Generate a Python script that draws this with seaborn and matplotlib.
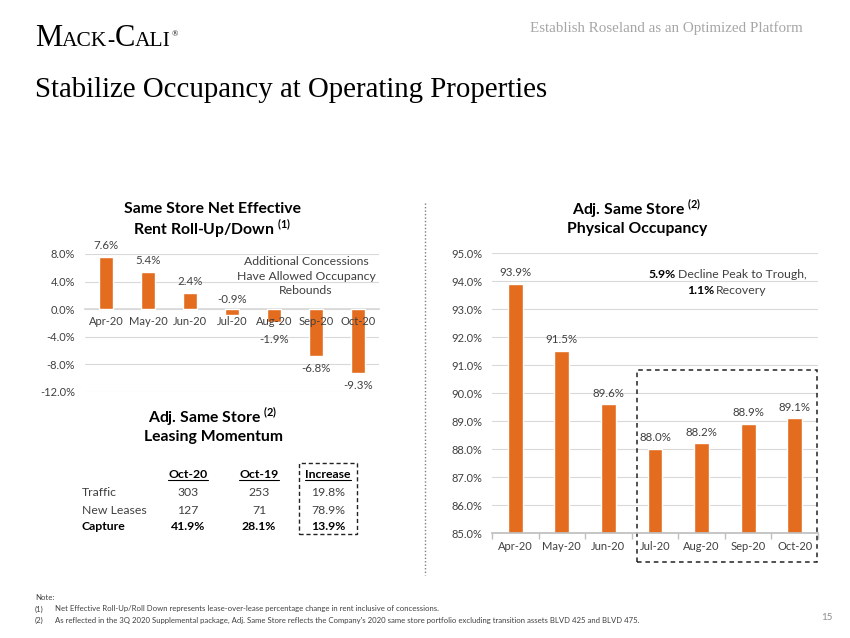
import numpy as np
import pandas as pd
import seaborn as sns
import matplotlib.pyplot as plt
from matplotlib.patches import Rectangle
from matplotlib.lines import Line2D
from matplotlib.ticker import FuncFormatter

# ---- data ----
months = ["Apr-20", "May-20", "Jun-20", "Jul-20", "Aug-20", "Sep-20", "Oct-20"]
rent_rollup = [7.6, 5.4, 2.4, -0.9, -1.9, -6.8, -9.3]
occupancy = [93.9, 91.5, 89.6, 88.0, 88.2, 88.9, 89.1]

table_cols = ["Oct-20", "Oct-19", "Increase"]
table_rows = ["Traffic", "New Leases", "Capture"]
oct20 = ["303", "127", "41.9%"]
oct19 = ["253", "71", "28.1%"]
increase = ["19.8%", "78.9%", "13.9%"]

concession_note = ["Additional Concessions", "Have Allowed Occupancy", "Rebounds"]

ORANGE = "#E36C1E"
GRID = "#D9D9D9"
TXT = "#404040"
W, H = 850, 638

sns.set_theme(style="white")
plt.rcParams["font.family"] = ["Lato", "DejaVu Sans"]

fig = plt.figure(figsize=(8.5, 6.38), dpi=100)


def fx(x):
    return x / W


def fy(y):
    return 1 - y / H


def pct(v, _):
    return f"{v:.1f}%"


# ---- left chart: rent roll-up/down ----
ax1 = fig.add_axes([fx(85), fy(392), fx(379) - fx(85), fy(254) - fy(392)])
df1 = pd.DataFrame({"month": months, "value": rent_rollup})
sns.barplot(data=df1, x="month", y="value", color=ORANGE, width=0.32,
            saturation=1, ax=ax1)
ax1.set_ylim(-12, 8)
ax1.set_yticks([-12, -8, -4, 0, 4, 8])
ax1.yaxis.set_major_formatter(FuncFormatter(pct))
ax1.grid(axis="y", color=GRID, lw=0.8)
ax1.set_axisbelow(True)
ax1.xaxis.set_zorder(3)  # month labels sit on top of the bars
for s in ["top", "right", "left"]:
    ax1.spines[s].set_visible(False)
ax1.spines["bottom"].set_position(("data", 0))
ax1.spines["bottom"].set_color(GRID)
ax1.spines["bottom"].set_zorder(0.6)
ax1.tick_params(axis="both", length=0, labelsize=8, labelcolor=TXT)
ax1.tick_params(axis="x", pad=5)
ax1.tick_params(axis="y", pad=7)
ax1.set_xlabel("")
ax1.set_ylabel("")
for i, v in enumerate(rent_rollup):
    if v >= 0:
        ax1.annotate(f"{v:.1f}%", (i, v), xytext=(0, 4), textcoords="offset points",
                     ha="center", va="bottom", fontsize=8.3, color=TXT)
    elif v > -1:
        ax1.annotate(f"{v:.1f}%", (i, 0), xytext=(0, 3), textcoords="offset points",
                     ha="center", va="bottom", fontsize=8.3, color=TXT)
    else:
        ax1.annotate(f"{v:.1f}%", (i, min(v, -2.6)), xytext=(0, -5),
                     textcoords="offset points", ha="center", va="top",
                     fontsize=8.3, color=TXT)
for k, line in enumerate(concession_note):
    fig.text(fx(306), fy(261 + 15 * k), line, ha="center", va="center",
             fontsize=8.8, color=TXT)

fig.text(fx(212), fy(209), "Same Store Net Effective", ha="center", va="center",
         fontsize=11.3, fontweight="bold", color="black")
fig.text(fx(212), fy(229), r"Rent Roll-Up/Down $^{\mathregular{(1)}}$", ha="center",
         va="center", fontsize=11.3, fontweight="bold", color="black")

# ---- right chart: physical occupancy ----
ax2 = fig.add_axes([fx(492), fy(533), fx(818) - fx(492), fy(253) - fy(533)])
df2 = pd.DataFrame({"month": months, "value": occupancy})
sns.barplot(data=df2, x="month", y="value", color=ORANGE, width=0.32,
            saturation=1, ax=ax2)
ax2.set_ylim(85, 95)
ax2.set_yticks(np.arange(85, 96, 1))
ax2.yaxis.set_major_formatter(FuncFormatter(pct))
ax2.grid(axis="y", color=GRID, lw=0.8)
ax2.set_axisbelow(True)
for s in ["top", "right", "left"]:
    ax2.spines[s].set_visible(False)
ax2.spines["bottom"].set_color("#BFBFBF")
ax2.set_xticks(np.arange(-0.5, 7, 1), minor=True)
ax2.tick_params(axis="x", which="minor", length=4, color="#BFBFBF", bottom=True)
ax2.tick_params(axis="both", which="major", length=0, labelsize=8, labelcolor=TXT)
ax2.tick_params(axis="x", pad=6)
ax2.tick_params(axis="y", pad=7)
ax2.set_xlabel("")
ax2.set_ylabel("")
for i, v in enumerate(occupancy):
    ax2.annotate(f"{v:.1f}%", (i, v), xytext=(0, 4), textcoords="offset points",
                 ha="center", va="bottom", fontsize=8.3, color=TXT)
ax2.add_patch(Rectangle((2.61, 83.95), 3.87, 6.87, fill=False, ls=(0, (3, 2.5)),
                        lw=1.1, ec="#222222", clip_on=False))

fig.text(fx(676), fy(274), "5.9%", ha="right", va="center", fontsize=8.8,
         fontweight="bold", color="black")
fig.text(fx(678), fy(274), "Decline Peak to Trough,", ha="left", va="center",
         fontsize=8.8, color=TXT)
fig.text(fx(714), fy(290), "1.1%", ha="right", va="center", fontsize=8.8,
         fontweight="bold", color="black")
fig.text(fx(716), fy(290), "Recovery", ha="left", va="center",
         fontsize=8.8, color=TXT)

fig.text(fx(637), fy(209), r"Adj. Same Store $^{\mathregular{(2)}}$", ha="center",
         va="center", fontsize=11.3, fontweight="bold", color="black")
fig.text(fx(637), fy(229), "Physical Occupancy", ha="center", va="center",
         fontsize=11.3, fontweight="bold", color="black")

# ---- leasing momentum table ----
fig.text(fx(213), fy(417), r"Adj. Same Store $^{\mathregular{(2)}}$", ha="center",
         va="center", fontsize=11.3, fontweight="bold", color="black")
fig.text(fx(213), fy(437), "Leasing Momentum", ha="center", va="center",
         fontsize=11.3, fontweight="bold", color="black")

col_x = [188, 259, 328]
row_y = [492, 510, 527]
headers = []
for cx, name in zip(col_x, table_cols):
    headers.append(fig.text(fx(cx), fy(474), name, ha="center", va="center",
                            fontsize=8.8, fontweight="bold", color="black"))
for r, (name, a, b, c) in enumerate(zip(table_rows, oct20, oct19, increase)):
    wt = "bold" if name == "Capture" else "normal"
    col = "black" if name == "Capture" else TXT
    fig.text(fx(82), fy(row_y[r]), name, ha="left", va="center", fontsize=8.8,
             fontweight=wt, color=col)
    for cx, val in zip(col_x, [a, b, c]):
        fig.text(fx(cx), fy(row_y[r]), val, ha="center", va="center",
                 fontsize=8.8, fontweight=wt, color=col)

fig.canvas.draw()
rend = fig.canvas.get_renderer()
for t in headers:
    bb = t.get_window_extent(rend)
    fig.add_artist(Line2D([bb.x0 / W, bb.x1 / W], [fy(480), fy(480)],
                          transform=fig.transFigure, color="black", lw=0.8))
fig.add_artist(Rectangle((fx(299), fy(534)), fx(357) - fx(299), fy(463) - fy(534),
                         transform=fig.transFigure, fill=False, ls=(0, (3, 2)),
                         lw=1.0, ec="#222222"))

# dotted separator
fig.add_artist(Line2D([fx(425), fx(425)], [fy(203), fy(575)], transform=fig.transFigure,
                      color="#7F7F7F", lw=1.0, ls=(0, (1, 1.5))))

# ---- header ----
x = 35
for piece, size in [("M", 22), ("ACK", 15.5), ("-", 15.5), ("C", 22), ("ALI", 15.5)]:
    t = fig.text(fx(x), fy(46), piece, ha="left", va="baseline", fontsize=size,
                 family="Liberation Serif", color="black")
    fig.canvas.draw()
    x = t.get_window_extent(rend).x1
fig.text(fx(x + 1), fy(36), "®", ha="left", va="baseline", fontsize=6,
         family="Liberation Serif", color="black")

fig.text(fx(803), fy(28), "Establish Roseland as an Optimized Platform", ha="right",
         va="center", fontsize=10.8, family="Liberation Serif", color="#A6A6A6")
fig.text(fx(35), fy(90), "Stabilize Occupancy at Operating Properties", ha="left",
         va="center", fontsize=20.8, family="Liberation Serif", color="black")

# ---- footnotes ----
fig.text(fx(35), fy(598), "Note:", ha="left", va="center", fontsize=5.6, color=TXT)
fig.text(fx(35), fy(609), "(1)", ha="left", va="center", fontsize=5.6, color=TXT)
fig.text(fx(55), fy(609), "Net Effective Roll-Up/Roll Down represents lease-over-lease "
         "percentage change in rent inclusive of concessions.", ha="left", va="center",
         fontsize=5.6, color=TXT)
fig.text(fx(35), fy(620), "(2)", ha="left", va="center", fontsize=5.6, color=TXT)
fig.text(fx(55), fy(620), "As reflected in the 3Q 2020 Supplemental package, Adj. Same "
         "Store reflects the Company's 2020 same store portfolio excluding transition "
         "assets BLVD 425 and BLVD 475.", ha="left", va="center", fontsize=5.6, color=TXT)
fig.text(fx(833), fy(617), "15", ha="right", va="center", fontsize=7, color="#8C8C8C")

fig.savefig("out.png", dpi=100)
